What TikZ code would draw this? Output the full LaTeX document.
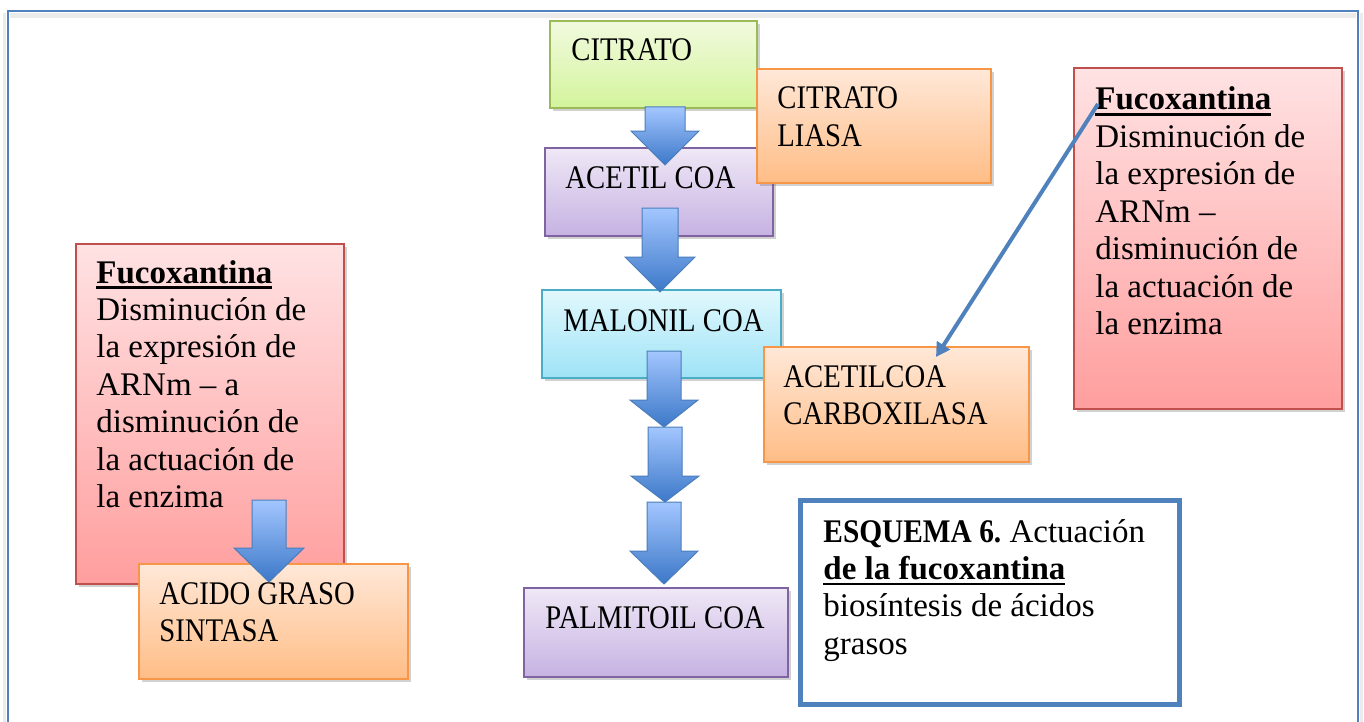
\documentclass[tikz,border=0pt]{standalone}
\usepackage{fontspec}
\usepackage{graphicx}
\setmainfont{Liberation Serif}
\newfontfamily\capsfont[FakeStretch=0.87]{Liberation Serif}
\usetikzlibrary{shadows,arrows.meta,calc}

\definecolor{frameblue}{HTML}{4F81BD}
\definecolor{arrowline}{HTML}{4A7EBB}
\definecolor{arrowtop}{HTML}{A3C6FF}
\definecolor{arrowbot}{HTML}{3C78C8}
\definecolor{grnline}{HTML}{9BBB59}
\definecolor{grntop}{HTML}{F2FADF}
\definecolor{grnbot}{HTML}{D3F49C}
\definecolor{purline}{HTML}{8064A2}
\definecolor{purtop}{HTML}{EFE8F6}
\definecolor{purbot}{HTML}{C6B2E2}
\definecolor{cynline}{HTML}{4BACC6}
\definecolor{cyntop}{HTML}{E2F8FD}
\definecolor{cynbot}{HTML}{9EE3F6}
\definecolor{orgline}{HTML}{F79646}
\definecolor{orgtop}{HTML}{FFE8D8}
\definecolor{orgbot}{HTML}{FFBD86}
\definecolor{redline}{HTML}{C0504D}
\definecolor{redtop}{HTML}{FFE2E3}
\definecolor{redbot}{HTML}{FF9E9E}

% underlined run of text with a heavier rule
\newcommand\undl[1]{\setbox0=\hbox{#1}\rlap{\rule[-2.8pt]{\wd0}{1.1pt}}\box0}
% left-aligned stack of lines whose baseline is the first line
\newcommand\txtlines[1]{\begin{tabular}[t]{@{}l@{}}#1\end{tabular}}
% block arrow: start, tip, head length, shaft half width, head half width
\newcommand\blkarrow[5]{%
  \path[blockarrow] ($(#1)+(-#4,0)$) -- ($(#1)+(#4,0)$) -- ($(#2)+(#4,-#3)$)
    -- ($(#2)+(#5,-#3)$) -- (#2) -- ($(#2)+(-#5,-#3)$) -- ($(#2)+(-#4,-#3)$) -- cycle;}

\tikzset{
  boxbase/.style={draw, line width=1pt, anchor=north west, inner sep=0pt,
    drop shadow={shadow xshift=1.5pt, shadow yshift=-1.5pt, opacity=0.3, fill=black!60}},
  greenbox/.style={boxbase, draw=grnline, top color=grntop, bottom color=grnbot},
  purplebox/.style={boxbase, draw=purline, top color=purtop, bottom color=purbot},
  cyanbox/.style={boxbase, draw=cynline, top color=cyntop, bottom color=cynbot},
  orangebox/.style={boxbase, draw=orgline, top color=orgtop, bottom color=orgbot},
  redbox/.style={boxbase, draw=redline, top color=redtop, bottom color=redbot},
  notebox/.style={draw=frameblue, line width=2.5pt, fill=white, anchor=north west, inner sep=0pt},
  txt/.style={anchor=base west, inner sep=0pt, font=\fontsize{16.5}{18.7}\selectfont\frenchspacing},
  capstxt/.style={anchor=base west, inner sep=0pt, font=\capsfont\fontsize{16.5}{18.7}\selectfont},
  blockarrow/.style={draw=arrowline, line width=0.5pt, top color=arrowtop, bottom color=arrowbot, line join=miter},
  thinarrow/.style={draw=frameblue, line width=2pt, -{Triangle[length=7pt,width=7.5pt]}},
}

\begin{document}
\begin{tikzpicture}[x=0.5pt,y=-0.5pt]
\useasboundingbox (0,0) rectangle (1364,722);

% outer frame, open at the bottom
\begin{scope}
  \clip (0,0) rectangle (1364,722);
  \fill[black!8] (10,13) rectangle (1356,18);
  \fill[black!8] (3,13) rectangle (6,740);
  \fill[black!8] (1360,13) rectangle (1363,740);
  \draw[frameblue, line width=1pt] (8,740) -- (8,11) -- (1358,11) -- (1358,740);
\end{scope}

% central pathway
\node[greenbox, minimum width=103.5pt, minimum height=43.5pt] (citrato) at (549,20) {};
\node[capstxt] (citratoT) at (571,61) {CITRATO};

\node[purplebox, minimum width=114pt, minimum height=44pt] (acetil) at (544,147) {};
\node[capstxt] (acetilT) at (565,188) {ACETIL COA};

\coordinate (a1s) at (665,107);
\coordinate (a1t) at (665,165);
\blkarrow{a1s}{a1t}{34}{20}{34}

\node[orangebox, minimum width=117pt, minimum height=57pt] (liasa) at (756,68) {};
\node[capstxt] (liasaT) at (777,109) {\txtlines{CITRATO\\LIASA}};

\node[cyanbox, minimum width=119.5pt, minimum height=44pt] (malonil) at (541,289) {};
\node[capstxt] (malonilT) at (563,331) {MALONIL COA};

\coordinate (a2s) at (660,208);
\coordinate (a2t) at (660,292);
\blkarrow{a2s}{a2t}{35}{18}{35}

\coordinate (a3s) at (664,351);
\coordinate (a3t) at (664,427);
\blkarrow{a3s}{a3t}{27}{17}{34}

\node[orangebox, minimum width=132.5pt, minimum height=57.5pt] (carbox) at (763,346) {};
\node[capstxt] (carboxT) at (783,387) {\txtlines{ACETILCOA\\CARBOXILASA}};

\node[purplebox, minimum width=132pt, minimum height=44.5pt] (palmitoil) at (523,587) {};
\node[capstxt] (palmitoilT) at (545,628) {PALMITOIL COA};

\coordinate (a4s) at (665,427);
\coordinate (a4t) at (665,502);
\blkarrow{a4s}{a4t}{26}{17}{34}

\coordinate (a5s) at (664,502);
\coordinate (a5t) at (664,584);
\blkarrow{a5s}{a5t}{33}{17}{34}

% left note and its enzyme
\node[redbox, minimum width=134pt, minimum height=170pt] (leftnote) at (75,243) {};
\node[txt] (leftnoteT) at (96,283) {\txtlines{\undl{\textbf{Fucoxantina}}\\Disminución de\\la expresión de\\ARNm – a\\disminución de\\la actuación de\\la enzima}};

\node[orangebox, minimum width=134.5pt, minimum height=57.5pt] (sintasa) at (138,563) {};
\node[capstxt] (sintasaT) at (159,604) {\txtlines{ACIDO GRASO\\SINTASA}};

\coordinate (a6s) at (269,500);
\coordinate (a6t) at (269,582);
\blkarrow{a6s}{a6t}{34}{17}{35}

% right note pointing at the carboxylase
\node[redbox, minimum width=134pt, minimum height=170.5pt] (rightnote) at (1073,67) {};
\node[txt] (rightnoteT) at (1095,110) {\txtlines{\undl{\textbf{Fucoxantina}}\\Disminución de\\la expresión de\\ARNm –\\disminución de\\la actuación de\\la enzima}};

\coordinate (fstart) at (1098,104);
\coordinate (fend) at (936,357);
\draw[thinarrow] (fstart) -- (fend);

% caption box
\node[notebox, minimum width=189.5pt, minimum height=102pt] (caption) at (798,498) {};
\node[txt] (captionT) at (823,542) {\txtlines{\scalebox{0.89}[1]{\textbf{ESQUEMA 6.}} Actuación\\\undl{\textbf{de la fucoxantina}}\\biosíntesis de ácidos\\grasos}};
\end{tikzpicture}
\end{document}
